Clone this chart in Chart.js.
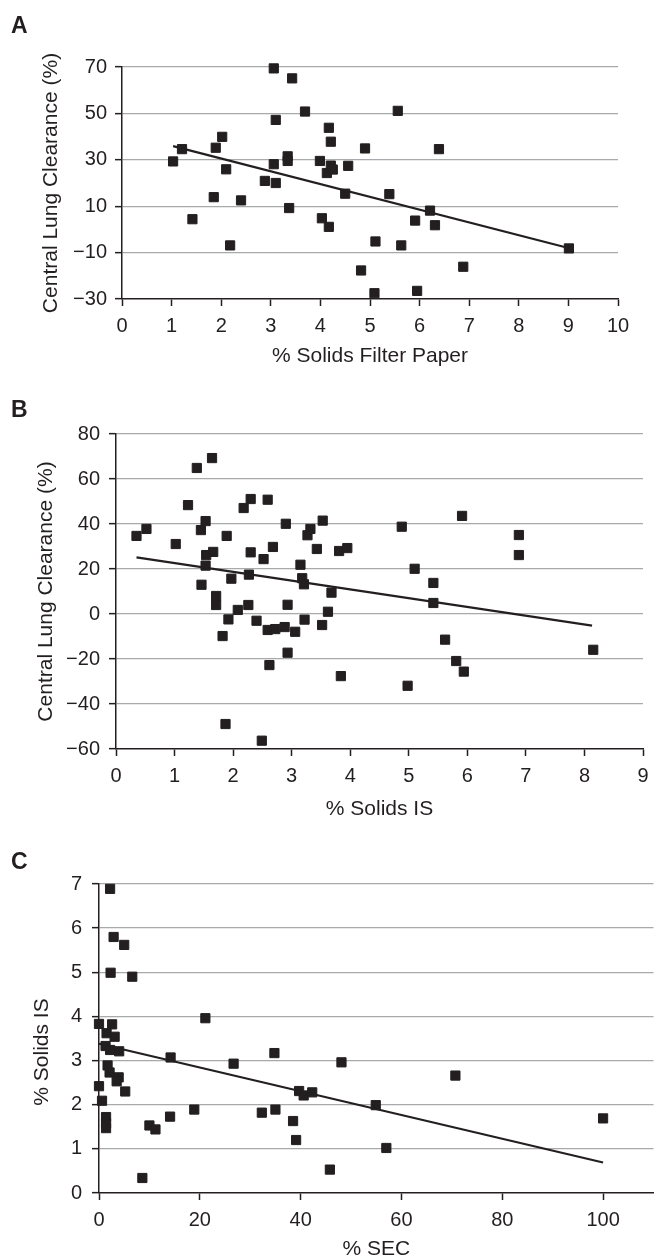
<!DOCTYPE html>
<html>
<head>
<meta charset="utf-8">
<title>Central lung clearance vs % solids</title>
<script src="https://cdn.jsdelivr.net/npm/chart.js@4.4.0/dist/chart.umd.min.js"></script>
<style>
  html, body { margin: 0; padding: 0; background: #fff; overflow: hidden; }
  #page { position: relative; width: 658px; height: 1260px; overflow: hidden; }
  canvas { position: absolute; left: 0; top: 0; }
  .panel { position: absolute; left: 11px; font: bold 23px "Liberation Sans", Arial, sans-serif; line-height: 23px; color: #231f20; }
</style>
</head>
<body>
<div id="page">
  <canvas id="chartA" width="658" height="1260"></canvas>
  <canvas id="chartB" width="658" height="1260"></canvas>
  <canvas id="chartC" width="661" height="1260"></canvas>
  <div class="panel" style="top:14px">A</div>
  <div class="panel" style="top:398px">B</div>
  <div class="panel" style="top:850px">C</div>
</div>
<script>
// Panel A - % solids filter paper vs central lung clearance
const filterPaperSolids = [1.03, 1.21, 1.42, 1.85, 1.89, 2.02, 2.10, 2.18, 2.40, 2.88, 3.06, 3.10, 3.06, 3.10, 3.34, 3.34, 3.37, 3.43, 3.69, 3.99, 4.03, 4.17, 4.21, 4.13, 4.21, 4.25, 4.17, 4.50, 4.56, 4.82, 4.90, 5.09, 5.11, 5.56, 5.39, 6.21, 5.91, 6.31, 6.39, 5.63, 5.95, 6.88, 9.01];
const filterPaperClearance = [29.3, 34.6, 4.4, 13.9, 35.2, 39.9, 25.9, -6.9, 12.5, 20.9, 69.4, 47.2, 28.1, 20.0, 31.5, 29.5, 9.2, 65.1, 50.8, 29.5, 4.8, 43.8, 37.8, 24.3, 27.5, 25.8, 1.1, 15.4, 27.4, -17.7, 34.9, -27.5, -5.2, 51.1, 15.2, 8.1, 3.8, 1.8, 34.6, -6.9, -26.5, -16.1, -8.2];
const trendAX = [1.03, 9.0];
const trendAY = [35.9, -8.0];
const ticksAX = [0, 1, 2, 3, 4, 5, 6, 7, 8, 9, 10];
const ticksAY = [-30, -10, 10, 30, 50, 70];

// Panel B - % solids IS vs central lung clearance
const isSolids = [0.35, 0.52, 1.02, 1.23, 1.38, 1.64, 1.45, 1.53, 1.54, 1.66, 1.53, 1.46, 1.71, 1.71, 1.89, 1.92, 1.82, 1.87, 1.97, 2.08, 2.18, 2.30, 2.27, 2.30, 2.26, 2.40, 2.52, 2.49, 2.59, 2.59, 2.72, 2.68, 2.62, 2.88, 2.90, 2.93, 2.93, 3.06, 3.15, 3.18, 3.21, 3.22, 3.27, 3.32, 3.43, 3.53, 3.52, 3.62, 3.68, 3.81, 3.95, 3.84, 4.88, 4.98, 5.10, 5.42, 5.42, 5.62, 5.81, 5.91, 5.94, 6.88, 6.88, 8.15];
const isClearance = [34.7, 37.8, 31.1, 48.4, 64.9, 69.3, 37.3, 41.3, 26.2, 27.6, 21.5, 13.0, 8.0, 4.0, 34.7, -2.4, -9.8, -48.9, 15.7, 1.8, 47.1, 51.1, 17.5, 27.4, 4.0, -3.0, 24.4, -56.3, 50.8, -7.1, -6.7, 29.8, -22.7, -5.8, 40.1, 4.1, -17.2, -7.9, 21.9, 15.9, 13.2, -2.5, 35.0, 37.8, 28.9, 41.5, -4.9, 1.0, 9.5, 28.0, 29.3, -27.6, 38.8, -31.9, 20.1, 13.8, 4.9, -11.4, -20.9, 43.6, -25.6, 35.1, 26.2, -15.9];
const trendBX = [0.35, 8.13];
const trendBY = [25.2, -5.2];
const ticksBX = [0, 1, 2, 3, 4, 5, 6, 7, 8, 9];
const ticksBY = [-60, -40, -20, 0, 20, 40, 60, 80];

// Panel C - % SEC vs % solids IS
const secPercent = [2.2, 2.9, 5.0, 2.3, 6.6, 0, 2.6, 1.5, 3.1, 1.3, 2.2, 4.0, 1.7, 2.1, 3.9, 3.5, 0, 0.6, 5.2, 1.4, 1.4, 1.4, 8.6, 10.0, 11.2, 14.1, 14.2, 18.9, 21.1, 26.7, 32.3, 34.8, 35.0, 38.5, 39.1, 39.7, 40.6, 42.3, 45.8, 48.1, 54.9, 57.0, 70.7, 100];
const secSolidsIS = [6.89, 5.80, 5.62, 4.99, 4.90, 3.83, 3.82, 3.62, 3.54, 3.33, 3.24, 3.21, 2.89, 2.73, 2.62, 2.53, 2.42, 2.09, 2.30, 1.72, 1.58, 1.47, 0.34, 1.53, 1.44, 1.73, 3.07, 1.89, 3.96, 2.93, 1.82, 3.17, 1.89, 1.63, 1.20, 2.31, 2.21, 2.28, 0.53, 2.96, 1.99, 1.02, 2.66, 1.69];
const trendCX = [0, 100];
const trendCY = [3.38, 0.69];
const ticksCX = [0, 20, 40, 60, 80, 100];
const ticksCY = [0, 1, 2, 3, 4, 5, 6, 7];

const FONT = '"Liberation Sans", Arial, sans-serif';
const INK = '#231f20';
const GRID = '#a7a9ac';

function fmt(v) {
    return v < 0 ? '\u2212' + Math.abs(v) : String(v);
}

// draws a rotated y title at a fixed spot (panel C's title sits a bit low in the original)
const freeYTitle = {
    id: 'freeYTitle',
    afterDraw(chart, args, opts) {
        if (!opts || !opts.text) return;
        const ctx = chart.ctx;
        ctx.save();
        ctx.translate(opts.x, opts.y);
        ctx.rotate(-Math.PI / 2);
        ctx.font = '21px ' + FONT;
        ctx.fillStyle = INK;
        ctx.textAlign = 'center';
        ctx.textBaseline = 'middle';
        ctx.fillText(opts.text, 0, 0);
        ctx.restore();
    }
};

function scatterPanel(canvasId, cfg) {
    const points = cfg.xs.map((x, i) => ({ x: x, y: cfg.ys[i] }));
    const trend = cfg.trendX.map((x, i) => ({ x: x, y: cfg.trendY[i] }));
    const yMin = cfg.yTicks[0];

    return new Chart(document.getElementById(canvasId), {
        type: 'scatter',
        data: {
            datasets: [{
                data: points,
                pointStyle: 'rect',
                pointRadius: 6.5,
                pointBackgroundColor: INK,
                pointBorderColor: INK,
                pointBorderWidth: 1,
                order: 1,
                clip: false
            }, {
                data: trend,
                showLine: true,
                borderColor: INK,
                borderWidth: 2.2,
                pointRadius: 0,
                fill: false,
                order: 0,
                clip: false
            }]
        },
        options: {
            responsive: false,
            animation: false,
            events: [],
            layout: { padding: cfg.padding },
            plugins: {
                legend: { display: false },
                tooltip: { enabled: false },
                freeYTitle: cfg.freeTitle || {}
            },
            scales: {
                x: {
                    type: 'linear',
                    min: cfg.xMin,
                    max: cfg.xMax,
                    afterBuildTicks: s => { s.ticks = cfg.xTicks.map(v => ({ value: v })); },
                    afterFit: s => { s.height = cfg.xAxisHeight; },
                    grid: { drawOnChartArea: false, drawTicks: true, tickLength: 7, tickColor: INK, tickWidth: 1.5 },
                    border: { display: true, color: INK, width: 1.5 },
                    ticks: { padding: 8, color: INK, font: { family: FONT, size: 20 }, callback: fmt, maxRotation: 0, autoSkip: false },
                    title: { display: true, text: cfg.xTitle, color: INK, font: { family: FONT, size: 21, lineHeight: 1 }, padding: { top: 0, bottom: 0 } }
                },
                y: {
                    type: 'linear',
                    min: cfg.yTicks[0],
                    max: cfg.yTicks[cfg.yTicks.length - 1],
                    afterBuildTicks: s => { s.ticks = cfg.yTicks.map(v => ({ value: v })); },
                    afterFit: s => { s.width = cfg.yAxisWidth; },
                    grid: {
                        color: c => (c.tick && c.tick.value === yMin) ? 'rgba(0,0,0,0)' : GRID,
                        lineWidth: 1.3,
                        drawTicks: true,
                        tickLength: 7,
                        tickColor: INK,
                        tickWidth: 1.5
                    },
                    border: { display: true, color: INK, width: 1.5 },
                    ticks: { padding: cfg.yTickPadding, color: INK, font: { family: FONT, size: 20 }, callback: fmt },
                    title: {
                        display: !!cfg.yTitle,
                        text: cfg.yTitle || '',
                        color: INK,
                        font: { family: FONT, size: 21, lineHeight: 1 },
                        padding: { top: cfg.yTitlePad || 0, bottom: 0 }
                    }
                }
            }
        },
        plugins: [freeYTitle]
    });
}

scatterPanel('chartA', {
    xs: filterPaperSolids, ys: filterPaperClearance,
    trendX: trendAX, trendY: trendAY,
    xMin: 0, xMax: 10, xTicks: ticksAX, yTicks: ticksAY,
    xTitle: '% Solids Filter Paper',
    yTitle: 'Central Lung Clearance (%)',
    padding: { left: 0, top: 67, right: 40, bottom: 893 },
    yAxisWidth: 122, xAxisHeight: 68, yTickPadding: 8, yTitlePad: 41
});

scatterPanel('chartB', {
    xs: isSolids, ys: isClearance,
    trendX: trendBX, trendY: trendBY,
    xMin: 0, xMax: 9, xTicks: ticksBX, yTicks: ticksBY,
    xTitle: '% Solids IS',
    yTitle: 'Central Lung Clearance (%)',
    padding: { left: 0, top: 434, right: 15, bottom: 440 },
    yAxisWidth: 116, xAxisHeight: 71, yTickPadding: 9, yTitlePad: 36
});

scatterPanel('chartC', {
    xs: secPercent, ys: secSolidsIS,
    trendX: trendCX, trendY: trendCY,
    xMin: 0, xMax: 110, xTicks: ticksCX, yTicks: ticksCY,
    xTitle: '% SEC',
    yTitle: null,
    freeTitle: { text: '% Solids IS', x: 42, y: 1052 },
    padding: { left: 0, top: 884, right: 0, bottom: 0 },
    yAxisWidth: 99, xAxisHeight: 67, yTickPadding: 10
});
</script>
</body>
</html>
